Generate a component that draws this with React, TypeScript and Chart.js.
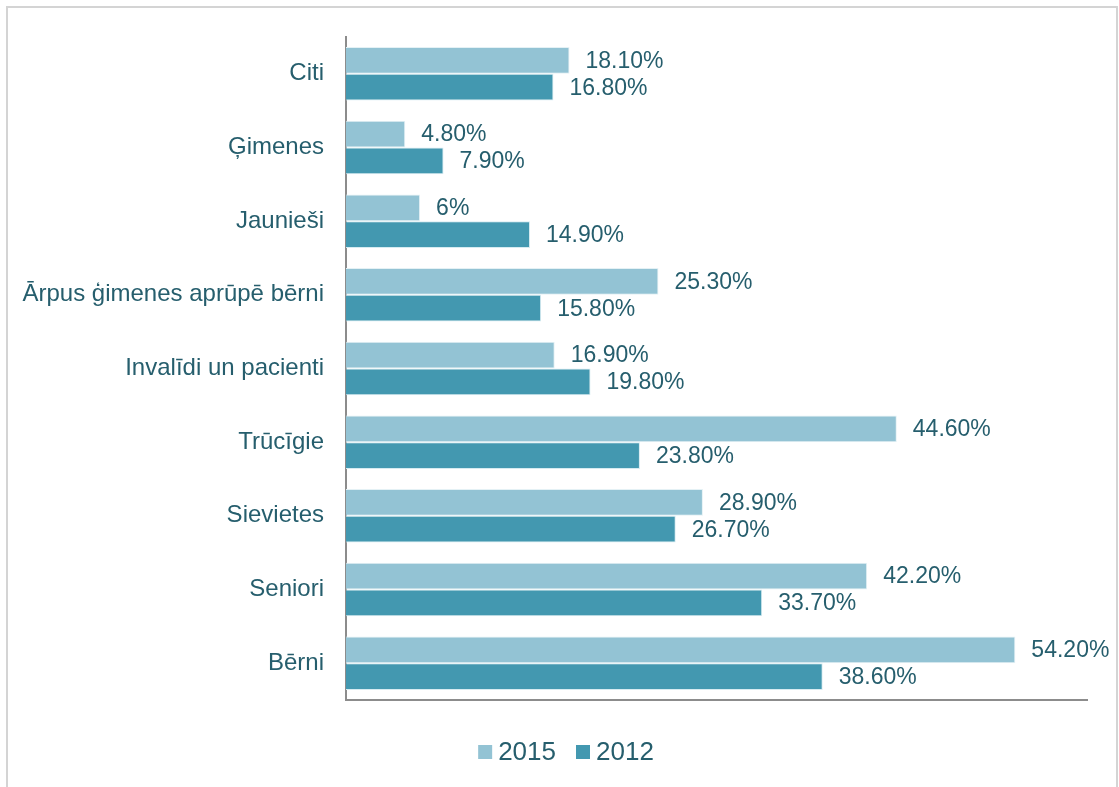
import React, { useEffect, useRef } from "react";
import { Chart, registerables } from "chart.js";

Chart.register(...registerables);

const categories = [
  "Citi",
  "Ģimenes",
  "Jaunieši",
  "Ārpus ģimenes aprūpē bērni",
  "Invalīdi un pacienti",
  "Trūcīgie",
  "Sievietes",
  "Seniori",
  "Bērni",
];
const values2015 = [18.1, 4.8, 6, 25.3, 16.9, 44.6, 28.9, 42.2, 54.2];
const values2012 = [16.8, 7.9, 14.9, 15.8, 19.8, 23.8, 26.7, 33.7, 38.6];
const seriesNames = ["2015", "2012"];
const seriesColors = ["#93C3D4", "#4398B0"];

const TEXT = "#265E6D";
const FONT = "'Liberation Sans', Arial, sans-serif";

const fmt = (v: number) => (Number.isInteger(v) ? `${v}%` : `${v.toFixed(2)}%`);

const labelPlugin = {
  id: "barLabels",
  afterDatasetsDraw(chart: any) {
    const ctx = chart.ctx;
    ctx.save();
    ctx.font = `23px ${FONT}`;
    ctx.fillStyle = TEXT;
    ctx.textAlign = "left";
    ctx.textBaseline = "middle";
    chart.data.datasets.forEach((ds: any, di: number) => {
      const meta = chart.getDatasetMeta(di);
      meta.data.forEach((bar: any, i: number) => {
        ctx.fillText(fmt(ds.data[i]), bar.x + 16, bar.y + 1);
      });
    });
    ctx.restore();
  },
};

// legend drawn beneath the plot, centred like the original
const legendPlugin = {
  id: "customLegend",
  afterDraw(chart: any) {
    const ctx = chart.ctx;
    ctx.save();
    ctx.font = `26px ${FONT}`;
    ctx.textBaseline = "middle";
    ctx.textAlign = "left";
    const box = 14;
    const gapBoxText = 6;
    const gapItems = 20;
    const items = chart.data.datasets.map((ds: any) => ({
      label: ds.label,
      color: ds.backgroundColor,
      w: box + gapBoxText + ctx.measureText(ds.label).width,
    }));
    const total =
      items.reduce((a: number, it: any) => a + it.w, 0) + gapItems * (items.length - 1);
    let x = 566 - total / 2;
    const y = 752;
    items.forEach((it: any) => {
      ctx.fillStyle = it.color;
      ctx.fillRect(x, y - box / 2, box, box);
      ctx.fillStyle = TEXT;
      ctx.fillText(it.label, x + box + gapBoxText, y + 1);
      x += it.w + gapItems;
    });
    ctx.restore();
  },
};

export default function App() {
  const ref = useRef<HTMLCanvasElement>(null);
  useEffect(() => {
    if (!ref.current) return;
    const chart = new Chart(ref.current, {
      type: "bar",
      data: {
        labels: categories,
        datasets: [
          {
            label: seriesNames[0],
            data: values2015,
            backgroundColor: seriesColors[0],
            borderColor: "#E4F1F5",
            borderWidth: 1,
          },
          {
            label: seriesNames[1],
            data: values2012,
            backgroundColor: seriesColors[1],
            borderColor: "#D6EBF1",
            borderWidth: 1,
          },
        ],
      },
      options: {
        indexAxis: "y",
        animation: false,
        responsive: false,
        maintainAspectRatio: false,
        datasets: { bar: { categoryPercentage: 0.727, barPercentage: 1 } },
        layout: { padding: { top: 37, right: 32, bottom: 87, left: 0 } },
        scales: {
          x: {
            min: 0,
            max: 60,
            grid: { display: false, drawTicks: false },
            ticks: { display: false },
            border: { display: true, color: "#8C8C8C", width: 2 },
            afterFit: (s: any) => {
              s.height = 0;
            },
          },
          y: {
            grid: { display: false, drawTicks: false },
            border: { display: true, color: "#8C8C8C", width: 2 },
            ticks: {
              padding: 22,
              color: TEXT,
              font: { family: FONT, size: 24 },
            },
            afterFit: (s: any) => {
              s.width = 346;
            },
          },
        },
        plugins: {
          legend: { display: false },
          tooltip: { enabled: false },
        },
      },
      plugins: [labelPlugin, legendPlugin],
    });
    return () => chart.destroy();
  }, []);

  return (
    <div
      style={{
        position: "absolute",
        left: 0,
        top: 0,
        width: 1119,
        height: 787,
        overflow: "hidden",
        background: "#fff",
      }}
    >
      <div
        style={{
          position: "absolute",
          left: 6,
          top: 6,
          width: 1108,
          height: 820,
          border: "2px solid #D4D4D4",
        }}
      />
      <canvas
        ref={ref}
        width={1119}
        height={787}
        style={{ position: "absolute", left: 0, top: 0, width: 1119, height: 787 }}
      />
    </div>
  );
}
